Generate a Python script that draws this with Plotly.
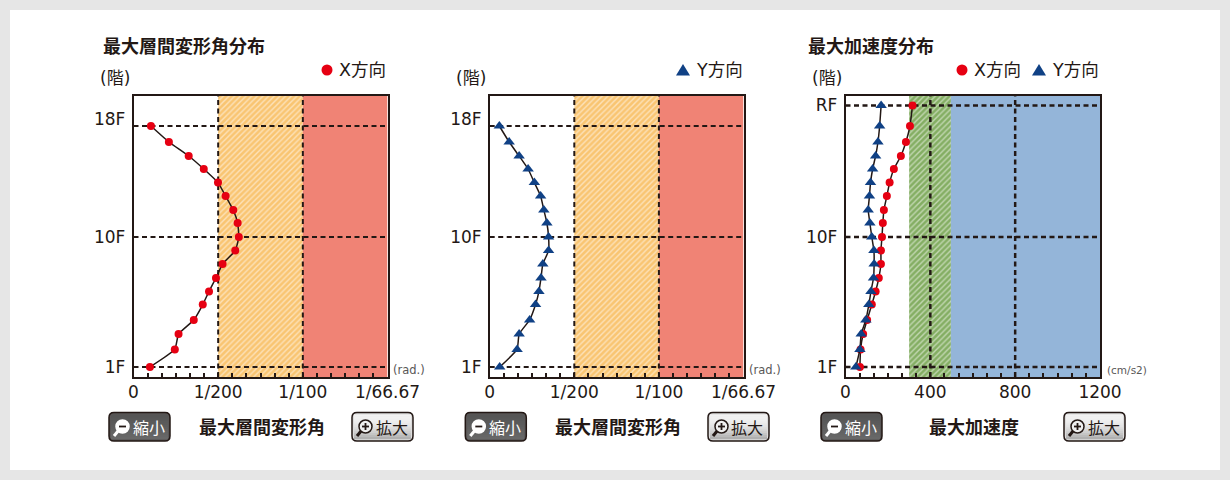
import re
import plotly.graph_objects as go

W, H = 1230, 480

# Storey elevations (m above 1F), bottom to top; last entry is the roof
elevation = [0, 4.4, 8.25, 11.75, 15.6, 18.9, 22.25, 25.75, 29.1, 32.5,
             36, 39.25, 42.75, 46.1, 49.5, 52.75, 56.25, 60.25, 65.4]

# Maximum inter-storey drift angle (rad), 1F to 18F
drift_x = [.00097, .00244, .00266, .00356, .00409, .00446, .00487, .00526, .00601,
           .00622, .00615, .00589, .00544, .00499, .00415, .00326, .00209, .00103]
drift_y = [.00059, .00162, .00174, .00236, .00271, .00291, .00303, .00314, .00348,
           .00348, .00338, .00320, .00301, .00264, .00227, .00174, .00115, .00057]

# Maximum acceleration (cm/s2), 1F to RF
accel_x = [68, 71, 83, 102, 124, 142, 157, 167, 167, 172,
           176, 181, 195, 208, 228, 261, 285, 304, 316]
accel_y = [49, 68, 74, 96, 110, 120, 132, 135, 134, 124,
           115, 107, 113, 118, 128, 142, 153, 161, 168]

drift_ticks = [0, .005, .01, .015]
drift_labels = ["0", "1/200", "1/100", "1/66.67"]
accel_ticks = [0, 400, 800, 1200]
accel_labels = ["0", "400", "800", "1200"]

# The 18F caption sits a little above its floor line
floor_label_18f = 62.0

DARK = "#231815"
RED = "#E60012"
NAVY = "#104185"
ORANGE = "#F9C572"
SALMON = "#F08375"
GREEN = "#84AE63"
BLUE = "#94B5D9"
LATIN = "DejaVu Sans, Noto Sans CJK JP"
CJK = "Noto Sans CJK JP, DejaVu Sans"

Y_LOW, Y_HIGH = -2.5, 67.875
TOP, BOTTOM = 95.5, 377


def px(x):
    return x / W


def py(y):
    return 1 - y / H


fig = go.Figure()
shapes = []
notes = []


def rect(x0, y0, x1, y1, fill, line=None, width=0):
    shapes.append(dict(type="rect", xref="paper", yref="paper", x0=px(x0), x1=px(x1),
                       y0=py(y0), y1=py(y1), fillcolor=fill, layer="below",
                       line=dict(color=line or fill, width=width)))


def label(x, y, text, size, color=DARK, family=CJK, anchor="center"):
    notes.append(dict(xref="paper", yref="paper", x=px(x), y=py(y), text=text, showarrow=False,
                      xanchor=anchor, yanchor="middle", font=dict(size=size, color=color, family=family)))


def zone(xa, ya, x0, x1, fill, stripe=None):
    pattern = dict(shape="/", bgcolor=fill, fgcolor=stripe, size=4, solidity=0.35) if stripe else None
    fig.add_trace(go.Scatter(x=[x0, x1, x1, x0, x0], y=[Y_LOW, Y_LOW, Y_HIGH, Y_HIGH, Y_LOW], xaxis=xa, yaxis=ya,
                             mode="lines", fill="toself", fillcolor=fill, fillpattern=pattern,
                             line=dict(width=0), hoverinfo="skip", showlegend=False))


def guides(xa, ya, xs, ys, xmax, width=2):
    gx, gy = [], []
    for v in xs:
        gx += [v, v, None]
        gy += [Y_LOW, Y_HIGH, None]
    for v in ys:
        gx += [0, xmax, None]
        gy += [v, v, None]
    fig.add_trace(go.Scatter(x=gx, y=gy, xaxis=xa, yaxis=ya, mode="lines", hoverinfo="skip", showlegend=False,
                             line=dict(color=DARK, width=width, dash="5px,3.5px")))


def series(xa, ya, xs, ys, symbol, color, size):
    fig.add_trace(go.Scatter(x=xs, y=ys, xaxis=xa, yaxis=ya, mode="lines+markers", showlegend=False,
                             line=dict(color=DARK, width=1.5, shape="spline", smoothing=0.4),
                             marker=dict(symbol=symbol, color=color, size=size)))


def axes(n, left, right, xmax, ticks, labels, minor, ytickv, yticktext):
    suffix = "" if n == 1 else str(n)
    fig.update_layout({
        f"xaxis{suffix}": dict(domain=[px(left), px(right)], range=[0, xmax], anchor=f"y{suffix}",
                               tickvals=ticks, ticktext=labels, ticks="inside", ticklen=4, tickwidth=1.5,
                               tickcolor=DARK, showgrid=False, zeroline=False, showline=True, mirror=True,
                               linecolor=DARK, linewidth=1.5, ticklabelstandoff=-1,
                               tickfont=dict(size=17, color=DARK, family=LATIN),
                               minor=dict(tick0=0, dtick=minor, ticks="inside", ticklen=4, tickwidth=1.5,
                                          tickcolor=DARK)),
        f"yaxis{suffix}": dict(domain=[py(BOTTOM), py(TOP)], range=[Y_LOW, Y_HIGH], anchor=f"x{suffix}",
                               tickvals=ytickv, ticktext=yticktext, ticks="", showgrid=False, zeroline=False,
                               showline=True, mirror=True, linecolor=DARK, linewidth=1.5, ticklabelstandoff=3,
                               tickfont=dict(size=17, color=DARK, family=LATIN)),
    })


def button(left, caption, dark):
    """Rounded zoom button with a magnifier icon; the body is shaded in thin strips."""
    right, top, bottom, r = left + 61, 412.5, 441, 5
    path = (f"M{left + r},{top} L{right - r},{top} Q{right},{top} {right},{top + r} "
            f"L{right},{bottom - r} Q{right},{bottom} {right - r},{bottom} L{left + r},{bottom} "
            f"Q{left},{bottom} {left},{bottom - r} L{left},{top + r} Q{left},{top} {left + r},{top} Z")
    # Convert the outline to paper coordinates
    tokens = re.findall(r"[MLQZ]|[-\d.]+,[-\d.]+", path)
    conv = []
    for t in tokens:
        if "," in t:
            a, b = t.split(",")
            conv.append(f"{px(float(a)):.5f},{py(float(b)):.5f}")
        else:
            conv.append(t)
    shapes.append(dict(type="path", xref="paper", yref="paper", path=" ".join(conv), layer="below",
                       fillcolor="#5A5757" if dark else "#DDDCDC", line=dict(color=DARK, width=1.5)))
    strips = 12
    for i in range(strips):
        t = i / (strips - 1)
        if dark:
            shade = int(0x55 + (0x68 - 0x55) * t)
        else:
            shade = int(0xF2 + (0xB0 - 0xF2) * t * t)
        y0 = top + 2 + (bottom - top - 4) * i / strips
        y1 = top + 2 + (bottom - top - 4) * (i + 1) / strips
        rect(left + 2, y0, right - 2, y1 + 0.3, f"rgb({shade},{shade},{shade})")

    cx, cy = left + 13.5, 426.5
    ink = "white" if dark else DARK
    fill = "white" if dark else "#EFEFEF"

    def seg(x0, y0, x1, y1, color, width):
        shapes.append(dict(type="line", xref="paper", yref="paper", x0=px(x0), x1=px(x1), y0=py(y0), y1=py(y1),
                           layer="above", line=dict(color=color, width=width)))
    seg(cx - 4, cy + 4, cx - 8.5, cy + 9.5, ink, 3)
    shapes.append(dict(type="circle", xref="paper", yref="paper", x0=px(cx - 6.5), x1=px(cx + 6.5),
                       y0=py(cy + 6.5), y1=py(cy - 6.5), fillcolor=fill, layer="above",
                       line=dict(color=ink, width=1.5)))
    seg(cx - 3.5, cy, cx + 3.5, cy, DARK, 1.8)
    if not dark:
        seg(cx, cy - 3.5, cx, cy + 3.5, DARK, 1.8)
    label(left + 39.5, 426.5, caption, 16, "white" if dark else DARK)


# Panel 1: drift angle, X direction
zone("x", "y", .005, .01, ORANGE, "white")
zone("x", "y", .01, .015, SALMON)
guides("x", "y", [.005, .01], [elevation[0], elevation[9], elevation[17]], .015)
series("x", "y", drift_x, elevation[:18], "circle", RED, 8)
axes(1, 133.5, 387.5, .015, drift_ticks, drift_labels, .005 / 6,
     [elevation[0], elevation[9], floor_label_18f], ["1F", "10F", "18F"])

# Panel 2: drift angle, Y direction
zone("x2", "y2", .005, .01, ORANGE, "white")
zone("x2", "y2", .01, .015, SALMON)
guides("x2", "y2", [.005, .01], [elevation[0], elevation[9], elevation[17]], .015)
series("x2", "y2", drift_y, elevation[:18], "triangle-up", NAVY, 10)
axes(2, 489.7, 743.5, .015, drift_ticks, drift_labels, .005 / 6,
     [elevation[0], elevation[9], floor_label_18f], ["1F", "10F", "18F"])

# Panel 3: acceleration, both directions
zone("x3", "y3", 300, 497, GREEN, "white")
zone("x3", "y3", 497, 1200, BLUE)
guides("x3", "y3", [400, 800], [elevation[0], elevation[9], elevation[18]], 1200, 2.5)
series("x3", "y3", accel_x, elevation, "circle", RED, 8)
series("x3", "y3", accel_y, elevation, "triangle-up", NAVY, 10)
axes(3, 845.5, 1100, 1200, accel_ticks, accel_labels, 400 / 6,
     [elevation[0], elevation[9], elevation[18]], ["1F", "10F", "RF"])

# Card on the grey page
rect(10, 10, 1220, 470, "white")

# Titles and axis captions
label(101, 45, "<b>最大層間変形角分布</b>", 18, anchor="left")
label(806, 45, "<b>最大加速度分布</b>", 18, anchor="left")
label(262, 426, "<b>最大層間変形角</b>", 18)
label(618, 426, "<b>最大層間変形角</b>", 18)
label(974, 426, "<b>最大加速度</b>", 18)
for x in (114.5, 471, 826.5):
    label(x, 78, "(階)", 17, family=LATIN)
label(390.5, 370, "(rad.)", 11.5, "#595757", LATIN, "left")
label(746.5, 370, "(rad.)", 11.5, "#595757", LATIN, "left")
label(1105, 370, "(cm/s2)", 10.5, "#595757", LATIN, "left")


# Direction keys
def key_circle(x):
    shapes.append(dict(type="circle", xref="paper", yref="paper", x0=px(x - 5.5), x1=px(x + 5.5),
                       y0=py(75.5), y1=py(64.5), fillcolor=RED, line=dict(width=0)))


def key_triangle(x):
    shapes.append(dict(type="path", xref="paper", yref="paper", fillcolor=NAVY, line=dict(width=0),
                       path=f"M{px(x - 7):.5f},{py(75.5):.5f} L{px(x + 7):.5f},{py(75.5):.5f} "
                            f"L{px(x):.5f},{py(64):.5f} Z"))


key_circle(327)
label(336.5, 70, "X方向", 17.5, family=LATIN, anchor="left")
key_triangle(683)
label(693.5, 70, "Y方向", 17.5, family=LATIN, anchor="left")
key_circle(962)
label(971.5, 70, "X方向", 17.5, family=LATIN, anchor="left")
key_triangle(1039)
label(1049.5, 70, "Y方向", 17.5, family=LATIN, anchor="left")

# Zoom buttons
for left, caption, dark in [(109, "縮小", True), (352, "拡大", False), (465.3, "縮小", True),
                            (708, "拡大", False), (821, "縮小", True), (1064, "拡大", False)]:
    button(left, caption, dark)

fig.update_layout(width=W, height=H, margin=dict(l=0, r=0, t=0, b=0, autoexpand=False), autosize=False,
                  paper_bgcolor="#E6E6E6", plot_bgcolor="white", showlegend=False,
                  shapes=shapes, annotations=notes, font=dict(family=LATIN))
fig.write_html("out.html", config=dict(displayModeBar=False))
